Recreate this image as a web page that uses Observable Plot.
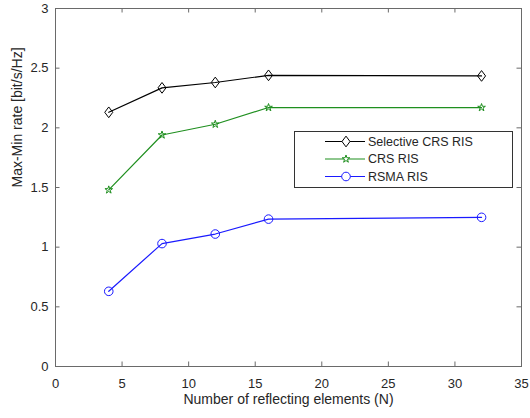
<!DOCTYPE html>
<html>
<head>
<meta charset="utf-8">
<script src="https://cdn.jsdelivr.net/npm/d3@7"></script>
<script src="https://cdn.jsdelivr.net/npm/@observablehq/plot@0.6"></script>
<style>
  html, body { margin: 0; padding: 0; background: #fff; }
  #chart { width: 530px; height: 418px; }
</style>
</head>
<body>
<div id="chart"></div>
<script>
// Max-min rate versus RIS size for three transmission schemes
const elements = [4, 8, 12, 16, 32];
const selectiveCrsRis = [2.13, 2.335, 2.38, 2.44, 2.435];
const crsRis = [1.48, 1.94, 2.03, 2.17, 2.17];
const rsmaRis = [0.63, 1.03, 1.11, 1.235, 1.25];

const seriesNames = ["Selective CRS RIS", "CRS RIS", "RSMA RIS"];
const seriesValues = [selectiveCrsRis, crsRis, rsmaRis];
const seriesColors = ["#000000", "#1f8f1f", "#1a1aff"];

const xTicks = [0, 5, 10, 15, 20, 25, 30, 35];
const yTicks = [0, 0.5, 1, 1.5, 2, 2.5, 3];
const xLabel = "Number of reflecting elements (N)";
const yLabel = "Max-Min rate [bit/s/Hz]";

// Layout
const W = 530, H = 418;
const mL = 55, mR = 9, mT = 8, mB = 52;
const innerW = W - mL - mR, innerH = H - mT - mB;
const tickLen = 4.5;
const axisColor = "#6a6a6a";
const textColor = "#262626";
const font = "'Liberation Sans', Arial, Helvetica, sans-serif";

// Diamond taller than wide, as in classic engineering plots
const tallDiamond = {
  draw(context, size) {
    const a = Math.sqrt(size / 1.5), b = 0.75 * a;
    context.moveTo(0, -a);
    context.lineTo(b, 0);
    context.lineTo(0, a);
    context.lineTo(-b, 0);
    context.closePath();
  }
};
const seriesSymbols = [tallDiamond, d3.symbolStar, d3.symbolCircle];
const seriesR = [3.7, 2.4, 4.3];

const rows = seriesNames.map((name, i) =>
  elements.map((n, j) => ({series: name, n, rate: seriesValues[i][j]}))
);

const marks = [
  // inward tick marks on all four sides
  Plot.ruleX(xTicks, {x: d => d, insetTop: innerH - tickLen, stroke: axisColor}),
  Plot.ruleX(xTicks, {x: d => d, insetBottom: innerH - tickLen, stroke: axisColor}),
  Plot.ruleY(yTicks, {y: d => d, insetRight: innerW - tickLen, stroke: axisColor}),
  Plot.ruleY(yTicks, {y: d => d, insetLeft: innerW - tickLen, stroke: axisColor}),
  Plot.axisX(xTicks, {tickSize: 0, tickPadding: 12, label: null, fontSize: 13, fill: textColor, tickFormat: d => String(d)}),
  Plot.axisY(yTicks, {tickSize: 0, tickPadding: 7, label: null, fontSize: 13, fill: textColor, tickFormat: d => String(d)}),
  Plot.text([xLabel], {frameAnchor: "bottom", dy: 37, text: d => d, fontSize: 14, fill: textColor}),
  Plot.text([yLabel], {frameAnchor: "left", dx: -38, rotate: -90, text: d => d, fontSize: 14, fill: textColor}),
];

rows.forEach((data, i) => {
  marks.push(Plot.line(data, {x: "n", y: "rate", stroke: seriesColors[i], strokeWidth: 1.2}));
  marks.push(Plot.dot(data, {x: "n", y: "rate", symbol: seriesSymbols[i], r: seriesR[i], stroke: seriesColors[i], fill: "none", strokeWidth: 1}));
});

marks.push(Plot.frame({stroke: axisColor, strokeWidth: 1}));

const chart = Plot.plot({
  width: W,
  height: H,
  marginLeft: mL,
  marginRight: mR,
  marginTop: mT,
  marginBottom: mB,
  x: {domain: [0, 35]},
  y: {domain: [0, 3]},
  style: {fontFamily: font, background: "#fff", color: textColor, overflow: "visible"},
  marks
});

// Legend box inside the axes
const svg = d3.select(chart);
const lg = svg.append("g").attr("transform", "translate(294,131)");
lg.append("rect").attr("x", 0.5).attr("y", 0.5).attr("width", 218).attr("height", 56)
  .attr("fill", "#fff").attr("stroke", "#333").attr("stroke-width", 1);
seriesNames.forEach((name, i) => {
  const cy = 10.5 + i * 17.5;
  const row = lg.append("g").attr("transform", `translate(0,${cy})`);
  row.append("line").attr("x1", 31).attr("x2", 71).attr("y1", 0).attr("y2", 0)
    .attr("stroke", seriesColors[i]).attr("stroke-width", 1.2);
  row.append("path").attr("transform", "translate(52,0)")
    .attr("d", d3.symbol(seriesSymbols[i], Math.PI * seriesR[i] * seriesR[i])())
    .attr("fill", "#fff").attr("stroke", seriesColors[i]).attr("stroke-width", 1);
  row.append("text").attr("x", 74).attr("y", 0).attr("dy", "0.35em")
    .attr("text-anchor", "start")
    .attr("font-size", 12.5).attr("fill", textColor).attr("font-family", font).text(name);
});

document.getElementById("chart").appendChild(chart);
</script>
</body>
</html>
